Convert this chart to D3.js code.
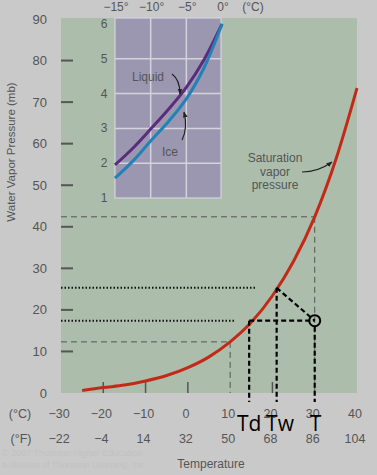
<!DOCTYPE html>
<html lang="en">
<head>
  <meta charset="utf-8">
  <title>Saturation vapor pressure</title>
  <style>
    body {
      margin:0;
      background-color:#c9c9c9;
      font-family:"Liberation Sans", Arial, sans-serif;
    }
    svg text {
      fill:#555;
    }
  </style>
</head>
<body>
  <div id="chart"></div>
  <script src="https://d3js.org/d3.v7.min.js"></script>
  <script>
    // main curve (deg C, mb)
    var tempC = [-25,-20,-15,-10,-5,0,5,10,15,20,25,30,35,40];
    var satVP = [0.6,1.3,1.9,2.9,4.2,6.1,8.7,12.3,17.0,23.4,31.7,42.4,56.2,73.4];

    // inset (deg C, mb)
    var insetT   = [-15,-12.5,-10,-7.5,-5,-2.5,0];
    var liquidVP = [1.95,2.43,2.98,3.55,4.18,4.98,6.0];
    var iceVP    = [1.57,2.06,2.64,3.2,3.85,4.75,6.0];

    var yTicks = [0,10,20,30,40,50,60,70,80,90];
    var cTicks = [-30,-20,-10,0,10,20,30,40];
    var fTicks = [-22,-4,14,32,50,68,86,104];
    var insetXTicks = [-15,-10,-5,0];
    var insetYTicks = [1,2,3,4,5,6];

    // example point
    var T = 30, Td = 14.5, Tw = 21;
    var eActual = 17.4, eWet = 25.3;

    var W = 377, H = 475;
    var svg = d3.select("#chart").append("svg")
        .attr("width", W)
        .attr("height", H);

    var x = d3.scaleLinear().domain([-30,40]).range([61,357]);
    var y = d3.scaleLinear().domain([0,90]).range([393,19]);

    var xi = d3.scaleLinear().domain([-15,0]).range([115,222]);
    var yi = d3.scaleLinear().domain([1,6]).range([198,24]);

    var defs = svg.append("defs");
    defs.append("marker")
        .attr("id","arrow")
        .attr("viewBox","0 0 10 10")
        .attr("refX",9).attr("refY",5)
        .attr("markerWidth",5).attr("markerHeight",5)
        .attr("orient","auto")
      .append("path")
        .attr("d","M0,1 L10,5 L0,9 z")
        .attr("fill","#222");

    // green plot area
    svg.append("rect")
        .attr("x", x(-30)).attr("y", 18)
        .attr("width", x(40) - x(-30))
        .attr("height", y(0) - 18)
        .attr("fill","#acbdac");

    // y tick labels and short ticks
    svg.selectAll(".ylab").data(yTicks).enter().append("text")
        .attr("x", 47)
        .attr("y", function(d){ return y(d) + 4.5; })
        .attr("text-anchor","end")
        .attr("font-size", 13)
        .text(function(d){ return d; });

    svg.selectAll(".ytick").data(yTicks.filter(function(d){ return d > 0 && d < 90; }))
      .enter().append("line")
        .attr("x1", x(-30)).attr("x2", x(-30) + 12)
        .attr("y1", function(d){ return y(d); })
        .attr("y2", function(d){ return y(d); })
        .attr("stroke","#555").attr("stroke-width",2);

    // bottom ticks
    svg.selectAll(".xtick").data([-20,-10,0,20])
      .enter().append("line")
        .attr("x1", function(d){ return x(d); })
        .attr("x2", function(d){ return x(d); })
        .attr("y1", y(0) - 11).attr("y2", y(0))
        .attr("stroke","#555").attr("stroke-width",1.5);

    // x labels
    svg.append("text").attr("x",20).attr("y",418).attr("text-anchor","middle")
        .attr("font-size",12.5).text("(°C)");
    svg.append("text").attr("x",21).attr("y",443).attr("text-anchor","middle")
        .attr("font-size",12.5).text("(°F)");
    svg.selectAll(".clab").data(cTicks).enter().append("text")
        .attr("x", function(d){ return x(d) - 2; })
        .attr("y", 418)
        .attr("text-anchor","middle")
        .attr("font-size",12.5)
        .text(function(d){ return d < 0 ? "\u2212" + (-d) : d; });
    svg.selectAll(".flab").data(fTicks).enter().append("text")
        .attr("x", function(d, i){ return x(cTicks[i]) - 2; })
        .attr("y", 443)
        .attr("text-anchor","middle")
        .attr("font-size",12.5)
        .text(function(d){ return d < 0 ? "\u2212" + (-d) : d; });

    svg.append("text").attr("x",211).attr("y",468).attr("text-anchor","middle")
        .attr("font-size",12).text("Temperature");

    svg.append("text")
        .attr("transform","translate(15,152) rotate(-90)")
        .attr("text-anchor","middle")
        .attr("font-size",11.5)
        .text("Water Vapor Pressure (mb)");

    // faint credit line
    svg.append("text").attr("x",2).attr("y",456).attr("font-size",9)
        .style("fill","#c2c2c2").text("© 2007 Thomson Higher Education");
    svg.append("text").attr("x",2).attr("y",468).attr("font-size",9)
        .style("fill","#c2c2c2").text("a division of Thomson Learning, Inc.");

    // grey dashed guides
    var guide = svg.append("g")
        .attr("stroke","#555").attr("stroke-width",1)
        .attr("stroke-dasharray","6,4").attr("fill","none");
    guide.append("line")
        .attr("x1", x(-30)).attr("x2", x(30))
        .attr("y1", y(42.4)).attr("y2", y(42.4));
    guide.append("line")
        .attr("x1", x(30)).attr("x2", x(30))
        .attr("y1", y(42.4)).attr("y2", y(0));
    guide.append("line")
        .attr("x1", x(-30)).attr("x2", x(10))
        .attr("y1", y(12.3)).attr("y2", y(12.3));
    guide.append("line")
        .attr("x1", x(10)).attr("x2", x(10))
        .attr("y1", y(12.3)).attr("y2", y(0));

    // dotted lines
    var dotted = svg.append("g")
        .attr("stroke","#111").attr("stroke-width",2)
        .attr("stroke-dasharray","1.5,2");
    dotted.append("line")
        .attr("x1", x(-30)).attr("x2", x(16))
        .attr("y1", y(eWet)).attr("y2", y(eWet));
    dotted.append("line")
        .attr("x1", x(-30)).attr("x2", x(11))
        .attr("y1", y(eActual)).attr("y2", y(eActual));

    // saturation curve
    var line = d3.line()
        .x(function(d){ return x(d[0]); })
        .y(function(d){ return y(d[1]); })
        .curve(d3.curveMonotoneX);
    svg.append("path")
        .datum(d3.zip(tempC, satVP))
        .attr("d", line)
        .attr("fill","none")
        .attr("stroke","#c22a17")
        .attr("stroke-width",3);

    // bold black dashed lines
    var bold = svg.append("g")
        .attr("stroke","#000").attr("stroke-width",2.2)
        .attr("stroke-dasharray","5,3").attr("fill","none");
    bold.append("line")
        .attr("x1", x(Td)).attr("x2", x(T))
        .attr("y1", y(eActual)).attr("y2", y(eActual));
    bold.append("line")
        .attr("x1", x(Td)).attr("x2", x(Td))
        .attr("y1", y(eActual)).attr("y2", 402);
    bold.append("line")
        .attr("x1", x(Tw)).attr("x2", x(Tw))
        .attr("y1", y(eWet)).attr("y2", 402);
    bold.append("line")
        .attr("x1", x(T)).attr("x2", x(T))
        .attr("y1", y(eActual) + 6).attr("y2", 402);
    bold.append("line")
        .attr("x1", x(Tw)).attr("x2", x(T))
        .attr("y1", y(eWet)).attr("y2", y(eActual));

    svg.append("circle")
        .attr("cx", x(T)).attr("cy", y(eActual)).attr("r",5.5)
        .attr("fill","none").attr("stroke","#000").attr("stroke-width",2);

    var big = [["Td", Td], ["Tw", Tw + 0.8], ["T", T + 0.2]];
    svg.selectAll(".big").data(big).enter().append("text")
        .attr("x", function(d){ return x(d[1]); })
        .attr("y", 431)
        .attr("text-anchor","middle")
        .attr("font-family","'Open Sans', 'Noto Sans', sans-serif")
        .attr("font-size",21)
        .style("fill","#000")
        .text(function(d){ return d[0]; });

    // saturation label
    var sl = svg.append("text").attr("text-anchor","middle").attr("font-size",12);
    ["Saturation","vapor","pressure"].forEach(function(t, i){
      sl.append("tspan").attr("x",275).attr("y",162 + i * 13.5).text(t);
    });
    svg.append("path")
        .attr("d","M302,172 Q318,172 332,162")
        .attr("fill","none").attr("stroke","#222").attr("stroke-width",1.2)
        .attr("marker-end","url(#arrow)");

    // inset
    var inset = svg.append("g");
    inset.append("rect")
        .attr("x", xi(-15)).attr("y", 18)
        .attr("width", xi(0) - xi(-15) - 1)
        .attr("height", yi(1) - 18)
        .attr("fill","#9c97b0");

    inset.selectAll(".vg").data([-10,-5]).enter().append("line")
        .attr("x1", function(d){ return xi(d); })
        .attr("x2", function(d){ return xi(d); })
        .attr("y1", 18).attr("y2", yi(1))
        .attr("stroke","#d4d2dc").attr("stroke-width",1.5);
    inset.selectAll(".hg").data([2,3,4,5]).enter().append("line")
        .attr("x1", xi(-15)).attr("x2", xi(0) - 1)
        .attr("y1", function(d){ return yi(d); })
        .attr("y2", function(d){ return yi(d); })
        .attr("stroke","#d4d2dc").attr("stroke-width",1.5);
    inset.append("rect")
        .attr("x", xi(-15)).attr("y", 18)
        .attr("width", xi(0) - xi(-15) - 1)
        .attr("height", yi(1) - 18)
        .attr("fill","none").attr("stroke","#d4d2dc").attr("stroke-width",1.2);

    inset.selectAll(".ixl").data(insetXTicks).enter().append("text")
        .attr("x", function(d){ return xi(d) + 1; })
        .attr("y", 11)
        .attr("text-anchor","middle")
        .attr("font-size",12)
        .text(function(d){ return (d < 0 ? "\u2212" + (-d) : d) + "°"; });
    inset.append("text").attr("x",253).attr("y",11).attr("text-anchor","middle")
        .attr("font-size",12).text("(°C)");

    inset.selectAll(".iyl").data(insetYTicks).enter().append("text")
        .attr("x", 104)
        .attr("y", function(d){ return yi(d) + 4; })
        .attr("text-anchor","middle")
        .attr("font-size",12)
        .text(function(d){ return d; });

    var iline = d3.line()
        .x(function(d){ return xi(d[0]); })
        .y(function(d){ return yi(d[1]); })
        .curve(d3.curveCatmullRom);
    inset.append("path")
        .datum(d3.zip(insetT, liquidVP))
        .attr("d", iline)
        .attr("fill","none").attr("stroke","#5c2c7c").attr("stroke-width",3);
    inset.append("path")
        .datum(d3.zip(insetT, iceVP))
        .attr("d", iline)
        .attr("fill","none").attr("stroke","#2182b8").attr("stroke-width",3);

    inset.append("text").attr("x",148).attr("y",81).attr("text-anchor","middle")
        .attr("font-size",12).text("Liquid");
    inset.append("text").attr("x",170).attr("y",156).attr("text-anchor","middle")
        .attr("font-size",12).text("Ice");
    inset.append("path")
        .attr("d","M172,74 Q180,80 180,94")
        .attr("fill","none").attr("stroke","#222").attr("stroke-width",1.2)
        .attr("marker-end","url(#arrow)");
    inset.append("path")
        .attr("d","M182,140 Q188,128 184,112")
        .attr("fill","none").attr("stroke","#222").attr("stroke-width",1.2)
        .attr("marker-end","url(#arrow)");
  </script>
</body>
</html>
